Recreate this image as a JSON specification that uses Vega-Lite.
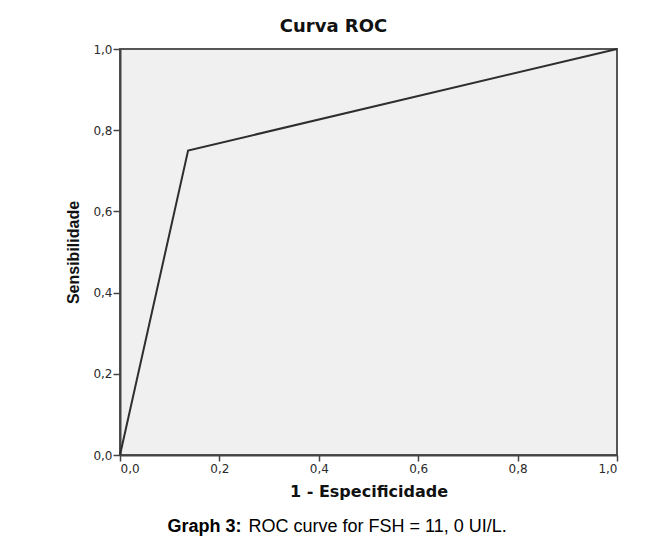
{
  "$schema": "https://vega.github.io/schema/vega-lite/v6.json",
  "width": 497,
  "height": 406,
  "autosize": {"type": "none"},
  "padding": {"left": 120, "top": 49, "right": 45, "bottom": 87},
  "background": "white",
  "title": {
    "text": "Curva ROC",
    "anchor": "middle",
    "frame": "group",
    "dx": -35,
    "offset": 7,
    "font": "DejaVu Sans",
    "fontSize": 18,
    "fontWeight": "bold",
    "color": "#111111"
  },
  "data": {
    "values": [
      {"fpr": 0, "tpr": 0},
      {"fpr": 0.137, "tpr": 0.75},
      {"fpr": 1, "tpr": 1}
    ]
  },
  "layer": [
    {
      "mark": {"type": "line", "color": "#2e2e2e", "strokeWidth": 2},
      "encoding": {
        "x": {
          "field": "fpr",
          "type": "quantitative",
          "scale": {"domain": [0, 1], "nice": false, "zero": false},
          "axis": {
            "values": [0, 0.2, 0.4, 0.6, 0.8, 1],
            "labelExpr": "replace(format(datum.value, '.1f'), '.', ',')",
            "domainColor": "#444444",
            "domainWidth": 2,
            "tickColor": "#444444",
            "tickWidth": 1.5,
            "tickSize": 6,
            "labelFont": "DejaVu Sans",
            "labelFontSize": 12,
            "labelColor": "#2a2a2a",
            "labelPadding": 2,
            "title": "1 - Especificidade",
            "titleFont": "DejaVu Sans",
            "titleFontSize": 16,
            "titleFontWeight": "bold",
            "titleColor": "#111111",
            "titlePadding": 9,
            "grid": false
          }
        },
        "y": {
          "field": "tpr",
          "type": "quantitative",
          "scale": {"domain": [0, 1], "nice": false, "zero": false},
          "axis": {
            "values": [0, 0.2, 0.4, 0.6, 0.8, 1],
            "labelExpr": "replace(format(datum.value, '.1f'), '.', ',')",
            "domainColor": "#444444",
            "domainWidth": 2,
            "tickColor": "#444444",
            "tickWidth": 1.5,
            "tickSize": 7,
            "labelFont": "DejaVu Sans",
            "labelFontSize": 12,
            "labelColor": "#2a2a2a",
            "labelPadding": 1,
            "title": "Sensibilidade",
            "titleFont": "Liberation Sans",
            "titleFontSize": 16,
            "titleFontWeight": "bold",
            "titleColor": "#111111",
            "titlePadding": 11,
            "grid": false
          }
        }
      }
    },
    {
      "mark": {"type": "line", "strokeOpacity": 0},
      "encoding": {
        "x": {
          "field": "fpr",
          "type": "quantitative",
          "scale": {"domain": [0, 1], "nice": false, "zero": false},
          "axis": {
            "orient": "top",
            "domain": false,
            "ticks": false,
            "labels": false,
            "grid": false,
            "title": "Graph 3:",
            "titleX": 47,
            "titleY": 482,
            "titleAngle": 0,
            "titleAlign": "left",
            "titleBaseline": "alphabetic",
            "titleFont": "Liberation Sans",
            "titleFontSize": 18,
            "titleFontWeight": "bold",
            "titleColor": "#000000"
          }
        },
        "y": {
          "field": "tpr",
          "type": "quantitative",
          "scale": {"domain": [0, 1], "nice": false, "zero": false},
          "axis": {
            "orient": "right",
            "domain": false,
            "ticks": false,
            "labels": false,
            "grid": false,
            "title": "ROC curve for FSH = 11, 0 UI/L.",
            "titleX": -369,
            "titleY": 482,
            "titleAngle": 0,
            "titleAlign": "left",
            "titleBaseline": "alphabetic",
            "titleFont": "Liberation Sans",
            "titleFontSize": 18,
            "titleFontWeight": "normal",
            "titleColor": "#000000"
          }
        }
      }
    }
  ],
  "resolve": {"scale": {"x": "independent", "y": "independent"}},
  "config": {
    "view": {"fill": "#f0f0f0", "stroke": "#555555", "strokeWidth": 2}
  }
}
